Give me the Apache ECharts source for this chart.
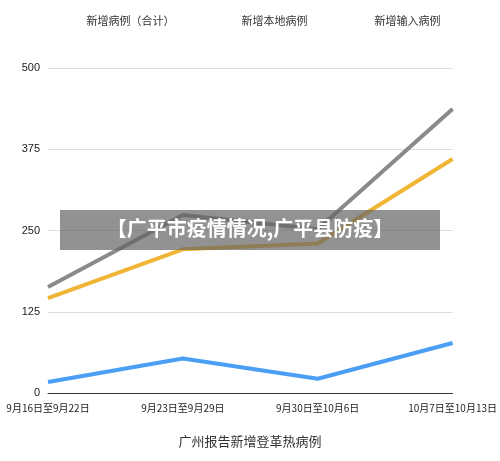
<!DOCTYPE html>
<html><head><meta charset="utf-8">
<script src="https://cdn.jsdelivr.net/npm/echarts@6/dist/echarts.min.js"></script>
<style>html,body{margin:0;padding:0;background:#fff}#c{width:500px;height:461px}</style>
</head><body><div id="c"></div>
<script>
const categories = ['9月16日至9月22日','9月23日至9月29日','9月30日至10月6日','10月7日至10月13日'];
const totalCases = [163, 274, 252, 437];
const localCases = [146, 221, 230, 360];
const importedCases = [17, 53, 22, 77];
const yTicks = [0, 125, 250, 375, 500];
const chart = echarts.init(document.getElementById('c'));
const lbl = (pos) => ({show:true, position:pos, color:'#222', fontSize:13, fontFamily:'Noto Sans CJK SC'});
chart.setOption({
  animation:false,
  legend:{top:10, left:'center', itemWidth:22, itemHeight:4, itemGap:40, icon:'rect',
    textStyle:{fontSize:11, color:'#333', fontFamily:'Noto Sans CJK SC'}},
  title:{text:'广州报告新增登革热病例', bottom:8, left:'center',
    textStyle:{fontSize:13, fontWeight:'normal', color:'#333', fontFamily:'Noto Sans CJK SC'}},
  grid:{left:48, right:47, top:68, bottom:68},
  xAxis:{type:'category', data:categories, boundaryGap:false,
    axisLine:{lineStyle:{color:'#333'}}, axisTick:{show:false},
    axisLabel:{color:'#222', fontSize:10, fontFamily:'Noto Sans CJK SC', margin:10}},
  yAxis:{type:'value', min:yTicks[0], max:yTicks[yTicks.length-1], interval:125,
    axisLabel:{color:'#222', fontSize:11}, splitLine:{lineStyle:{color:'#ddd'}}},
  series:[
    {name:'新增病例（合计）', type:'line', data:totalCases, showSymbol:true, symbol:'circle', symbolSize:1,
     lineStyle:{width:4, color:'#8a8a8a'}, itemStyle:{color:'#8a8a8a', opacity:0},
     label:{...lbl('bottom'), distance:2, offset:[8,0], formatter:p=>p.dataIndex==1?'':String(p.value)}},
    {name:'新增本地病例', type:'line', data:localCases, showSymbol:true, symbol:'circle', symbolSize:1,
     lineStyle:{width:4, color:'#f1b535'}, itemStyle:{color:'#f1b535', opacity:0},
     label:{...lbl('bottom'), distance:2, offset:[8,0]}},
    {name:'新增输入病例', type:'line', data:importedCases, showSymbol:true, symbol:'circle', symbolSize:1,
     lineStyle:{width:4, color:'#4a9ff5'}, itemStyle:{color:'#4a9ff5', opacity:0},
     label:{...lbl('bottom'), distance:2, offset:[8,0]}}
  ],
  graphic:[
    {type:'rect', left:60, top:210, shape:{width:380, height:40}, style:{fill:'rgba(100,100,100,0.7)'}, z:100},
    {type:'text', left:'center', top:218, style:{text:'【广平市疫情情况,广平县防疫】', fill:'#fff', fontSize:20, fontWeight:'bold', fontFamily:'Noto Sans CJK SC'}, z:101}
  ]
});
</script></body></html>
